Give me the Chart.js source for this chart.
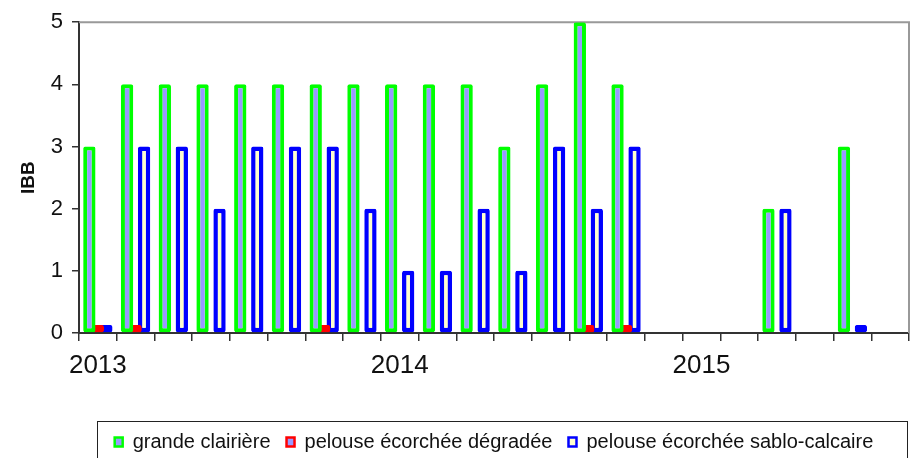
<!DOCTYPE html>
<html>
<head>
<meta charset="utf-8">
<script src="https://cdn.jsdelivr.net/npm/chart.js@4.4.1/dist/chart.umd.min.js"></script>
<style>
  html, body { margin: 0; padding: 0; background: #fff; }
  #wrap { width: 921px; height: 458px; }
</style>
</head>
<body>
<div id="wrap"><canvas id="ibbChart" width="921" height="458"></canvas></div>
<script>
// values (one slot per sampling date)
const xLabels = ['2013', '', '', '', '', '', '', '', '2014', '', '', '', '', '', '', '', '2015', '', '', '', '', ''];
const grandeClairiere = [3, 4, 4, 4, 4, 4, 4, 4, 4, 4, 4, 3, 4, 5, 4, null, null, null, 2, null, 3, null];
const pelouseDegradee = [0.13, 0.13, null, null, null, null, 0.13, null, null, null, null, null, null, 0.13, 0.13, null, null, null, null, null, null, null];
const pelouseSablo = [0.13, 3, 3, 2, 3, 3, 3, 2, 1, 1, 2, 1, 3, 2, 3, null, null, null, 2, null, 0.13, null];
const yTicks = [0, 1, 2, 3, 4, 5];

const FONT = "'Liberation Sans', Arial, sans-serif";
const AXIS = '#333';

// grey frame on top and right of the plot area
const framePlugin = {
  id: 'frame',
  beforeDatasetsDraw(chart) {
    const { ctx, chartArea: a } = chart;
    ctx.save();
    ctx.strokeStyle = '#999';
    ctx.lineWidth = 2;
    ctx.beginPath();
    ctx.moveTo(a.left, a.top);
    ctx.lineTo(a.right, a.top);
    ctx.lineTo(a.right, a.bottom);
    ctx.stroke();
    ctx.restore();
  }
};

// box round the legend, open at the bottom like the cropped original
const legendBoxPlugin = {
  id: 'legendBox',
  afterDraw(chart) {
    const l = chart.legend;
    if (!l) return;
    const { ctx } = chart;
    ctx.save();
    ctx.strokeStyle = '#222';
    ctx.lineWidth = 1;
    ctx.strokeRect(l.left + 18.5, l.top + 5.5, l.width - 20, l.height + 30);
    ctx.restore();
  }
};

const barCommon = {
  categoryPercentage: 0.676,
  barPercentage: 1.45,
  borderWidth: 4,
  borderRadius: 2,
  borderSkipped: false
};

new Chart(document.getElementById('ibbChart'), {
  type: 'bar',
  data: {
    labels: xLabels,
    datasets: [
      {
        ...barCommon,
        label: 'grande clairière',
        data: grandeClairiere,
        backgroundColor: '#9999ff',
        borderColor: '#00ff00'
      },
      {
        ...barCommon,
        label: 'pelouse écorchée dégradée',
        data: pelouseDegradee,
        backgroundColor: '#9999ff',
        borderColor: '#ff0000'
      },
      {
        ...barCommon,
        label: 'pelouse écorchée sablo-calcaire',
        data: pelouseSablo,
        backgroundColor: '#ffffcc',
        borderColor: '#0000ff',
        borderWidth: 4.5
      }
    ]
  },
  options: {
    responsive: false,
    animation: false,
    layout: { padding: { left: 0, right: 12, top: 19, bottom: -4 } },
    plugins: {
      tooltip: { enabled: false },
      legend: {
        position: 'bottom',
        fullSize: false,
        labels: {
          color: '#111',
          font: { family: FONT, size: 20 },
          boxWidth: 8,
          boxHeight: 9,
          padding: 16,
          generateLabels(chart) {
            const items = Chart.defaults.plugins.legend.labels.generateLabels(chart);
            items.forEach(it => { it.lineWidth = 2.5; });
            return items;
          }
        }
      }
    },
    scales: {
      x: {
        grid: {
          offset: true,
          drawOnChartArea: false,
          drawTicks: true,
          tickLength: 8,
          color: AXIS,
          lineWidth: 1.5
        },
        border: { color: AXIS, width: 2 },
        ticks: {
          autoSkip: false,
          maxRotation: 0,
          padding: 9,
          color: '#111',
          font: { family: FONT, size: 26 }
        },
        afterFit(scale) { scale.height = 83; }
      },
      y: {
        min: yTicks[0],
        max: yTicks[yTicks.length - 1],
        grid: {
          drawOnChartArea: false,
          drawTicks: true,
          tickLength: 7,
          color: AXIS,
          lineWidth: 1.5
        },
        border: { color: AXIS, width: 2 },
        ticks: {
          stepSize: 1,
          padding: 9,
          color: '#111',
          font: { family: FONT, size: 22 }
        },
        title: {
          display: true,
          text: 'IBB',
          color: '#111',
          padding: { top: 17, bottom: 0 },
          font: { family: FONT, size: 19, weight: 'bold' }
        },
        afterFit(scale) { scale.width = 79; }
      }
    }
  },
  plugins: [framePlugin, legendBoxPlugin]
});
</script>
</body>
</html>
